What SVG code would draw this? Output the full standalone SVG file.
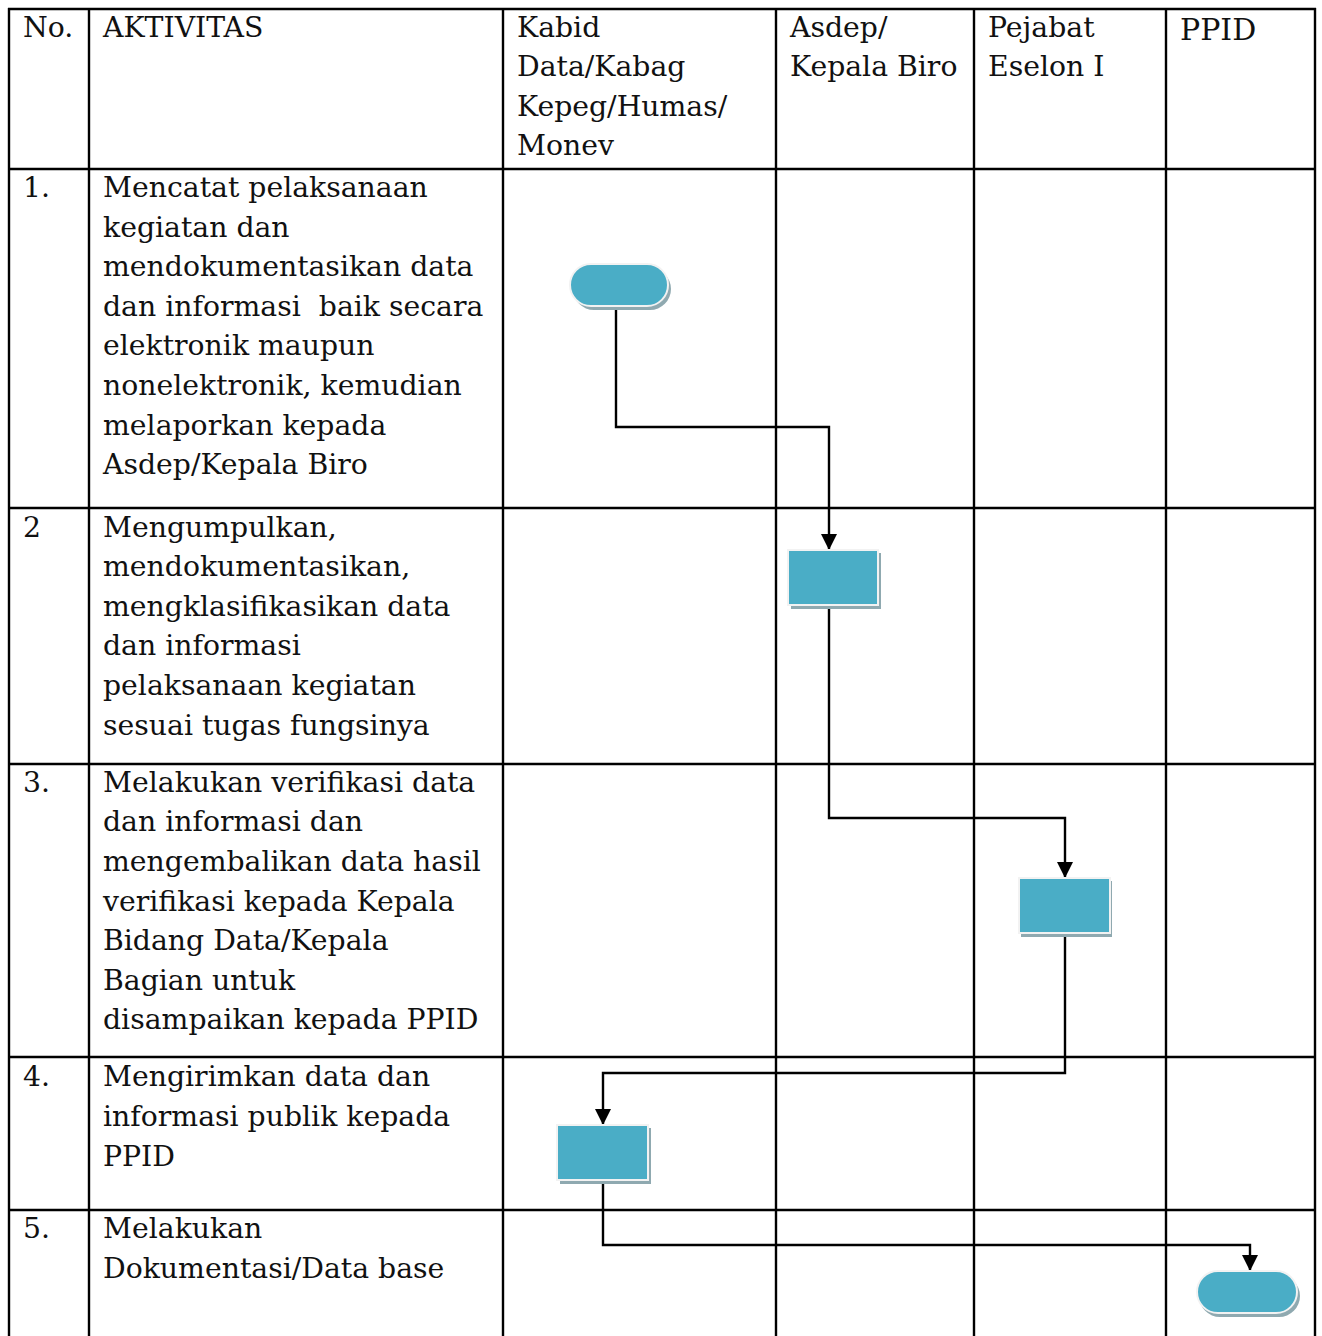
<svg xmlns="http://www.w3.org/2000/svg" width="1322" height="1336" viewBox="0 0 1322 1336">
<defs>
<marker id="ah" markerWidth="18" markerHeight="18" refX="16" refY="8" orient="auto" markerUnits="userSpaceOnUse">
<path d="M0,0 L16,8 L0,16 Z" fill="#000"/>
</marker>
<style>
.grid{stroke:#000;stroke-width:2.4;fill:none}
text{font-family:"DejaVu Serif","Liberation Serif",serif;font-size:28.3px;fill:#111}
.sh{fill:#8fa9b0}
.box{fill:#4aadc6;stroke:#f2f2f2;stroke-width:2}
.conn{stroke:#000;stroke-width:2.4;fill:none}
</style>
</defs>
<rect width="1322" height="1336" fill="#fff"/>
<g id="table" class="grid">
<line x1="8" y1="9" x2="1316" y2="9"/>
<line x1="8" y1="169" x2="1316" y2="169"/>
<line x1="8" y1="508" x2="1316" y2="508"/>
<line x1="8" y1="764" x2="1316" y2="764"/>
<line x1="8" y1="1057" x2="1316" y2="1057"/>
<line x1="8" y1="1210" x2="1316" y2="1210"/>
<line x1="9" y1="8" x2="9" y2="1336"/>
<line x1="89" y1="8" x2="89" y2="1336"/>
<line x1="503" y1="8" x2="503" y2="1336"/>
<line x1="776" y1="8" x2="776" y2="1336"/>
<line x1="974" y1="8" x2="974" y2="1336"/>
<line x1="1166" y1="8" x2="1166" y2="1336"/>
<line x1="1315" y1="8" x2="1315" y2="1336"/>
</g>
<g id="header">
<text x="23" y="37">No.</text>
<text x="103" y="37">AKTIVITAS</text>
<text x="517" y="37">Kabid</text>
<text x="517" y="76">Data/Kabag</text>
<text x="517" y="116">Kepeg/Humas/</text>
<text x="517" y="155">Monev</text>
<text x="790" y="37">Asdep/</text>
<text x="790" y="76">Kepala Biro</text>
<text x="988" y="37">Pejabat</text>
<text x="988" y="76">Eselon I</text>
<text x="1180" y="40" style="font-size:30px">PPID</text>
</g>
<g id="rows">
<text x="23" y="197">1.</text>
<text x="103" y="197">Mencatat pelaksanaan</text>
<text x="103" y="237">kegiatan dan</text>
<text x="103" y="276">mendokumentasikan data</text>
<text x="103" y="316" xml:space="preserve">dan informasi  baik secara</text>
<text x="103" y="355">elektronik maupun</text>
<text x="103" y="395">nonelektronik, kemudian</text>
<text x="103" y="435">melaporkan kepada</text>
<text x="103" y="474">Asdep/Kepala Biro</text>
<text x="23" y="537">2</text>
<text x="103" y="537">Mengumpulkan,</text>
<text x="103" y="576">mendokumentasikan,</text>
<text x="103" y="616">mengklasifikasikan data</text>
<text x="103" y="655">dan informasi</text>
<text x="103" y="695">pelaksanaan kegiatan</text>
<text x="103" y="735">sesuai tugas fungsinya</text>
<text x="23" y="792">3.</text>
<text x="103" y="792">Melakukan verifikasi data</text>
<text x="103" y="831">dan informasi dan</text>
<text x="103" y="871">mengembalikan data hasil</text>
<text x="103" y="911">verifikasi kepada Kepala</text>
<text x="103" y="950">Bidang Data/Kepala</text>
<text x="103" y="990">Bagian untuk</text>
<text x="103" y="1029">disampaikan kepada PPID</text>
<text x="23" y="1086">4.</text>
<text x="103" y="1086">Mengirimkan data dan</text>
<text x="103" y="1126">informasi publik kepada</text>
<text x="103" y="1166">PPID</text>
<text x="23" y="1238">5.</text>
<text x="103" y="1238">Melakukan</text>
<text x="103" y="1278">Dokumentasi/Data base</text>
</g>
<g id="connectors" class="conn">
<polyline points="616,305 616,427 829,427 829,550" marker-end="url(#ah)"/>
<polyline points="829,604 829,818 1065,818 1065,878" marker-end="url(#ah)"/>
<polyline points="1065,933 1065,1073 603,1073 603,1125" marker-end="url(#ah)"/>
<polyline points="603,1180 603,1245 1250,1245 1250,1271" marker-end="url(#ah)"/>
</g>
<g id="node-start">
<rect class="sh" x="573" y="268" width="98" height="42" rx="21"/>
<rect class="box" x="570" y="264" width="98" height="42" rx="21"/>
</g>
<g id="node-step2">
<rect class="sh" x="791" y="553" width="90" height="56"/>
<rect class="box" x="788" y="550" width="90" height="55"/>
</g>
<g id="node-step3">
<rect class="sh" x="1021" y="881" width="91" height="56"/>
<rect class="box" x="1019" y="878" width="91" height="55"/>
</g>
<g id="node-step4">
<rect class="sh" x="560" y="1128" width="91" height="56"/>
<rect class="box" x="557" y="1125" width="91" height="55"/>
</g>
<g id="node-end">
<rect class="sh" x="1199" y="1275" width="101" height="42" rx="21"/>
<rect class="box" x="1197" y="1271" width="100" height="42" rx="21"/>
</g>
</svg>
